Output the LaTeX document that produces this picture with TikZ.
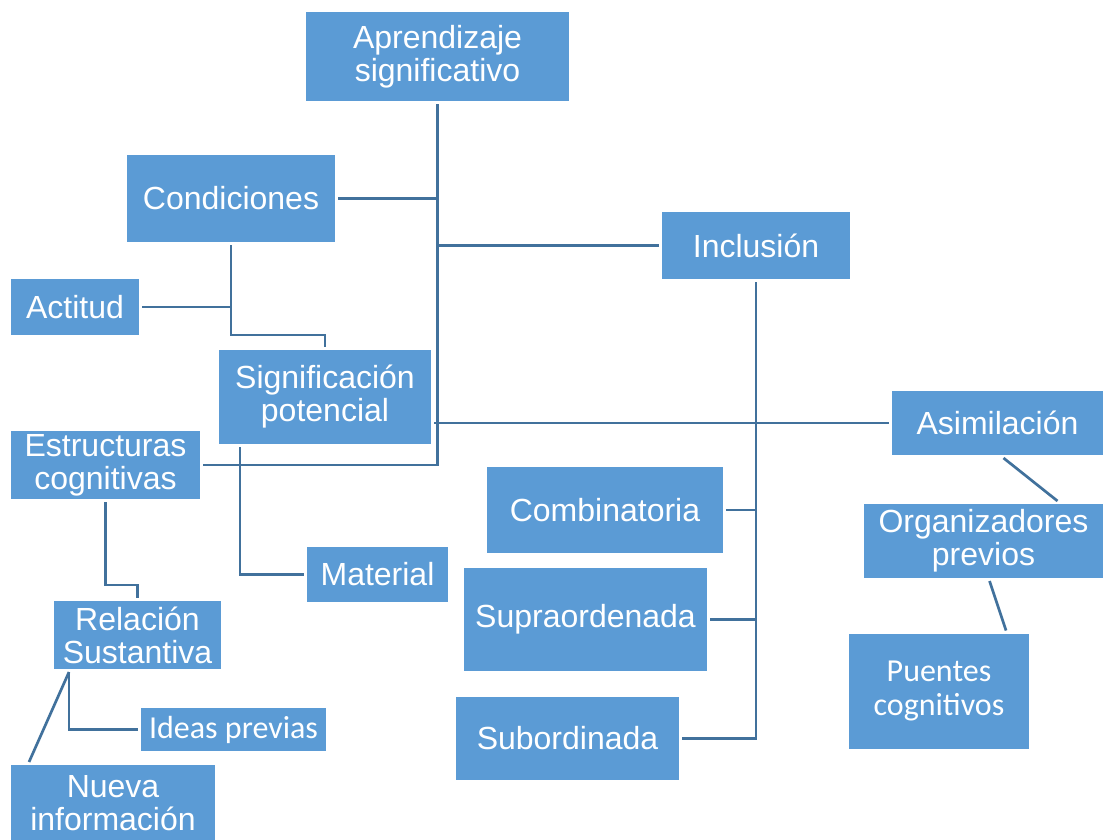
\documentclass[tikz,border=0pt]{standalone}
\usepackage{fontspec}
\setmainfont{Liberation Sans}
\newfontfamily\calfont{Carlito}
\usetikzlibrary{calc}
\definecolor{boxblue}{HTML}{5B9BD5}
\definecolor{lineblue}{HTML}{41719C}

\begin{document}
\begin{tikzpicture}
  [x=1pt,y=-1pt,
   every node/.style={rectangle,fill=boxblue,text=white,align=center,inner sep=0pt,outer sep=3pt,
     font=\fontsize{32}{33}\selectfont},
   calibri/.style={font=\calfont\fontsize{32}{34}\selectfont},
   link/.style={draw=lineblue,line width=2.7pt}]
\useasboundingbox (0,0) rectangle (1103,839);
\node (apr)[minimum width=263pt,minimum height=89pt] at (437.5,56.5) {Aprendizaje\\significativo};
  \node (cond)[minimum width=208pt,minimum height=87pt] at (231,198.5) {Condiciones};
  \node (act)[minimum width=128pt,minimum height=56pt] at (75,307) {Actitud};
  \node (sig)[minimum width=212pt,minimum height=94pt] at (325,397) {Significación\\potencial};
  \node (est)[minimum width=189pt,minimum height=68pt] at (105.5,465) {Estructuras\\cognitivas};
  \node (mat)[minimum width=141pt,minimum height=55pt] at (377.5,574.5) {Material};
  \node (rel)[minimum width=167pt,minimum height=68pt] at (137.5,635) {Relación\\Sustantiva};
  \node (ide)[calibri,minimum width=185pt,minimum height=43pt] at (233.5,729.5) {Ideas previas};
  \node (nue)[minimum width=204pt,minimum height=76pt] at (113,803) {Nueva\\información};
  \node (inc)[minimum width=188pt,minimum height=67pt] at (756,245.5) {Inclusión};
  \node (asi)[minimum width=211pt,minimum height=64pt] at (997.5,423) {Asimilación};
  \node (comb)[minimum width=236pt,minimum height=86pt] at (605,510) {Combinatoria};
  \node (sup)[minimum width=243pt,minimum height=103pt] at (585.5,619.5) {Supraordenada};
  \node (sub)[minimum width=223pt,minimum height=83pt] at (567.5,738.5) {Subordinada};
  \node (org)[minimum width=239pt,minimum height=74pt] at (983.5,541) {Organizadores\\previos};
  \node (pue)[calibri,minimum width=180pt,minimum height=115pt] at (939,691) {Puentes\\cognitivos};

 % trunk and branches
 \draw[link] (apr.south) |- (est.east);
 \draw[link] (inc.west) -- (inc.west -| apr.south);
 \draw[link] (sig.east |- asi.west) -- (asi.west);
 \draw[link] (inc.south) |- (sub.east);
 \foreach \from/\to in {cond/apr,act/cond,comb/inc,sup/inc}
    \draw[link] (\from.east) -- (\from.east -| \to.south);
 \draw[link] (cond.south) |- ($(sig.north)+(0,-12)$) -- (sig.north);
 \draw[link] ([xshift=24pt]sig.south west) |- (mat.west);
 \draw[link] (est.south) |- ($(rel.north)+(0,-13)$) -- (rel.north);
 \draw[link] ([xshift=18pt]rel.south west) |- (ide.west);
 \draw[link] ([xshift=18pt]rel.south west) -- ([xshift=21pt]nue.north west);
 \draw[link] ([xshift=6pt]asi.south) -- ([xshift=74pt]org.north);
 \draw[link] ([xshift=6pt]org.south) -- ([xshift=67pt]pue.north);

\end{tikzpicture}
\end{document}
